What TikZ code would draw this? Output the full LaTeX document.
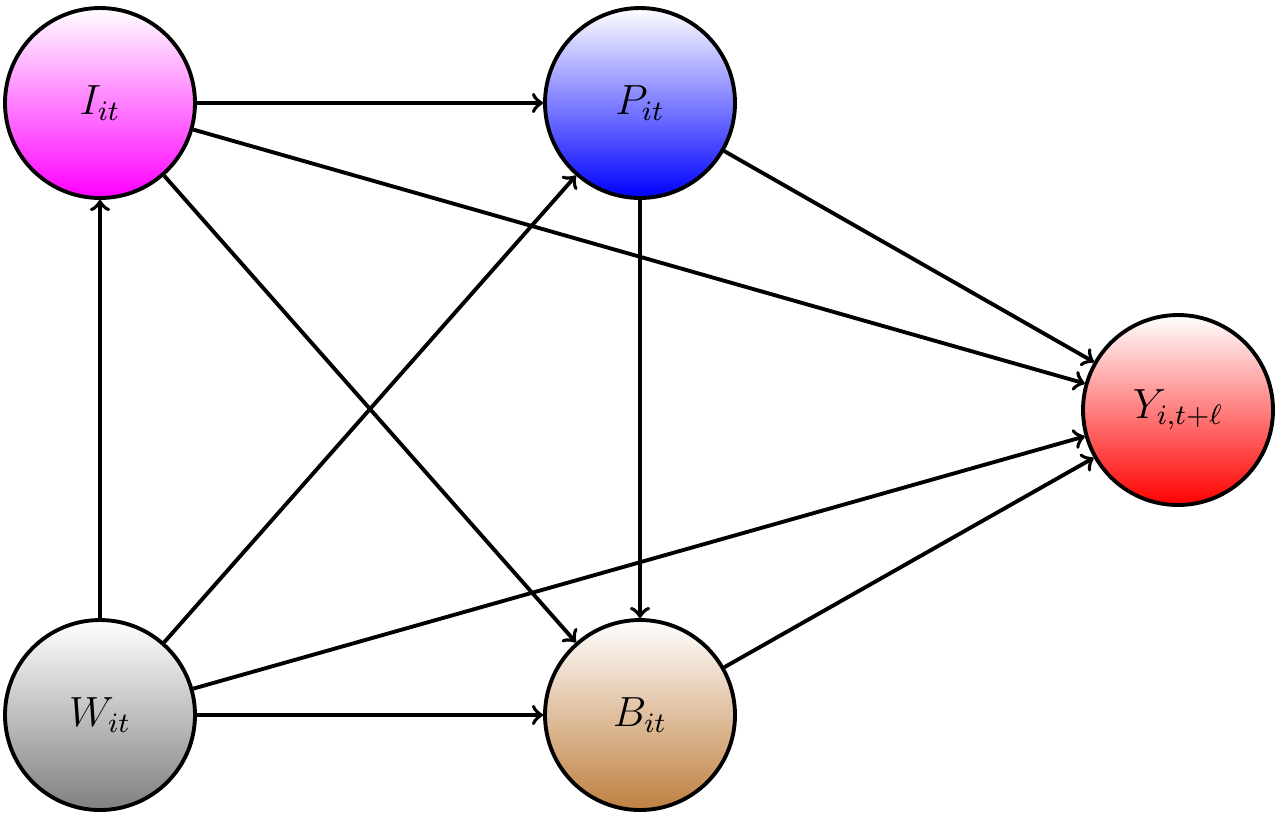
\documentclass[tikz,border=0pt]{standalone}
\usepackage{amsmath}
\usepackage{tikz}
\usetikzlibrary{positioning,shadings}

\begin{document}
\begin{tikzpicture}[font=\large,
   var/.style={circle,draw,line width=1.1pt,minimum size=1.9cm,inner sep=0pt,top color=white},
   ar/.style={->,line width=1.1pt}]
\useasboundingbox (0,0) rectangle (12.8,-8.19);

% variables
\node[var,bottom color=magenta] (I) at (1.00,-1.03) {$I_{it}$};
\node[var,bottom color=blue]    (P) at (6.40,-1.03) {$P_{it}$};
\node[var,bottom color=red]     (Y) at (11.78,-4.10) {$Y_{i,t+\ell}$};
\node[var,bottom color=gray]    (W) at (1.00,-7.15) {$W_{it}$};
\node[var,bottom color=brown]   (B) at (6.40,-7.15) {$B_{it}$};

% paths
\draw[ar] (I) -- (P);
\draw[ar] (I) -- (Y);
\draw[ar] (I) -- (B);
\draw[ar] (W) -- (I);
\draw[ar] (W) -- (P);
\draw[ar] (W) -- (Y);
\draw[ar] (W) -- (B);
\draw[ar] (P) -- (Y);
\draw[ar] (P) -- (B);
\draw[ar] (B) -- (Y);
\end{tikzpicture}
\end{document}
